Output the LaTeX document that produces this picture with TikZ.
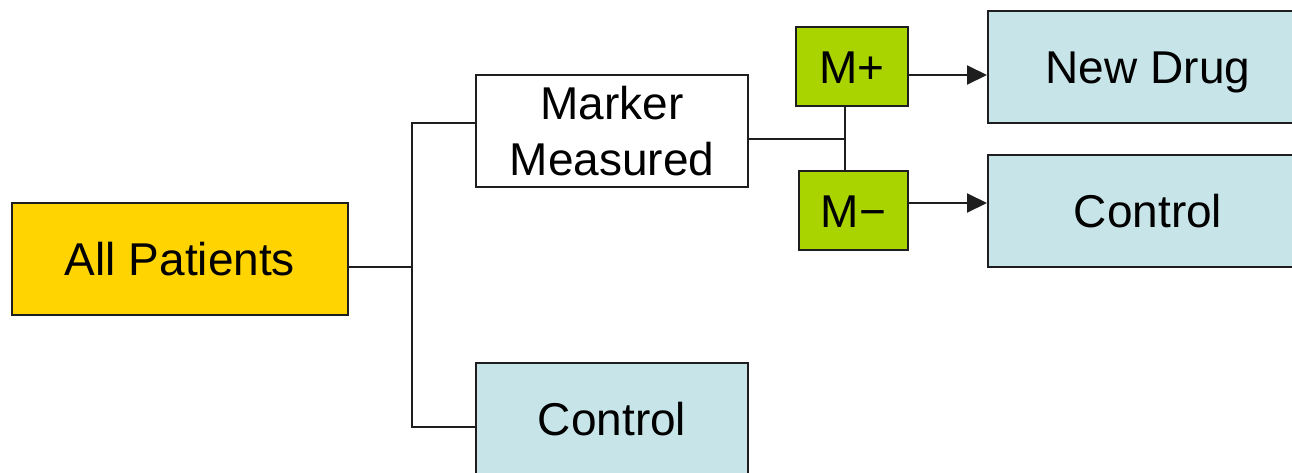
\documentclass[tikz,border=0pt]{standalone}
\usepackage{fontspec}
\setmainfont{Liberation Sans}
\usetikzlibrary{arrows.meta}
\definecolor{cyellow}{RGB}{255,212,0}
\definecolor{cgreen}{RGB}{170,212,0}
\definecolor{cblue}{RGB}{199,229,233}
\definecolor{cline}{RGB}{30,30,30}
\tikzset{
  box/.style={draw=cline, line width=2pt, rectangle, inner sep=0pt, align=center,
    font=\fontsize{46}{56}\selectfont},
  one/.style={text height=33pt, text depth=0pt},
  conn/.style={draw=cline, line width=2pt},
  arr/.style={conn, -{Triangle[length=20pt,width=19pt]}}
}
\begin{document}
\begin{tikzpicture}[x=1pt,y=-1pt]
\useasboundingbox (0,0) rectangle (1292,472);
\clip (0,0) rectangle (1292,472);
\node[box, one, fill=cyellow, minimum width=336pt, minimum height=112pt] (all) at (180,259) {All Patients};
\node[box, fill=white, minimum width=272pt, minimum height=112pt] (mm) at (612,131) {Marker\\Measured};
\node[box, one, fill=cblue, minimum width=272pt, minimum height=112pt] (ctl) at (612,419) {Control};
\node[box, one, fill=cgreen, minimum width=112pt, minimum height=79pt] (mp) at (852,66.5) {M+};
\node[box, one, fill=cgreen, minimum width=109pt, minimum height=79pt] (mn) at (853.5,210.5) {M−};
\node[box, one, fill=cblue, minimum width=320pt, minimum height=112pt] (nd) at (1148,67) {New Drug};
\node[box, one, fill=cblue, minimum width=320pt, minimum height=112pt] (ctr) at (1148,211) {Control};
\coordinate (b) at (412,267);
\coordinate (bt) at (412,123);
\coordinate (bb) at (412,427);
\coordinate (j) at (845,139);
\coordinate (a1) at (0,75);
\coordinate (a2) at (0,203);
\draw[conn] (all.east |- b) -- (b);
\draw[conn] (mm.west |- bt) -- (bt) -- (bb) -- (ctl.west |- bb);
\draw[conn] (mm.east |- j) -- (j);
\draw[conn] (mp.south -| j) -- (mn.north -| j);
\draw[arr] (mp.east |- a1) -- (nd.west |- a1);
\draw[arr] (mn.east |- a2) -- (ctr.west |- a2);
\end{tikzpicture}
\end{document}
